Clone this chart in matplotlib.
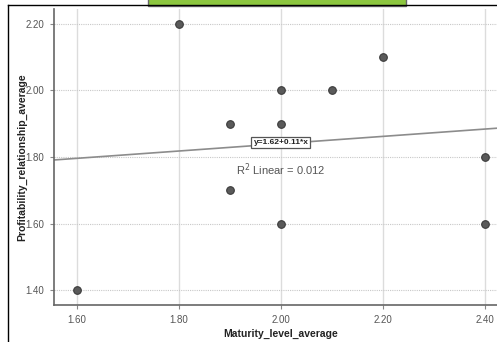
import matplotlib
matplotlib.use("Agg")
import matplotlib.pyplot as plt
from matplotlib.patches import Rectangle
from matplotlib.lines import Line2D

maturity = [1.60, 1.80, 1.90, 1.90, 2.00, 2.00, 2.00, 2.10, 2.20, 2.40, 2.40]
profitability = [1.40, 2.20, 1.90, 1.70, 2.00, 1.90, 1.60, 2.00, 2.10, 1.80, 1.60]
intercept = 1.62
slope = 0.11
r2 = 0.012
xticks = [1.60, 1.80, 2.00, 2.20, 2.40]
yticks = [1.40, 1.60, 1.80, 2.00, 2.20]

W, H = 497, 342
fig = plt.figure(figsize=(W / 100, H / 100), dpi=100)
plt.rcParams['font.family'] = ['Liberation Sans', 'DejaVu Sans']

# axes box in pixel terms
left, top, bottom = 54, 9, 305
x0, x1 = 1.555, 2.46
px_per_unit = 510.0
right = left + (x1 - x0) * px_per_unit
ax = fig.add_axes([left / W, (H - bottom) / H, (right - left) / W, (bottom - top) / H])
ax.set_xlim(x0, x1)
ax.set_ylim(1.355, 2.245)

ax.set_xticks(xticks)
ax.set_yticks(yticks)
ax.set_xticklabels([f"{v:.2f}" for v in xticks])
ax.set_yticklabels([f"{v:.2f}" for v in yticks])
ax.tick_params(axis='both', length=3, color='#888888', labelsize=7, labelcolor='#555555', pad=4)

for s in ['top', 'right']:
    ax.spines[s].set_visible(False)
for s in ['left', 'bottom']:
    ax.spines[s].set_color('#666666')
    ax.spines[s].set_linewidth(1.2)

for v in xticks:
    ax.axvline(v, color='#dcdcdc', lw=1.0, zorder=0)
for v in yticks:
    ax.axhline(v, color='#c8c8c8', lw=0.8, ls=(0, (1, 1)), zorder=0)

# linear fit line
xs = [x0, x1]
ax.plot(xs, [intercept + slope * x for x in xs], color='#8c8c8c', lw=1.2, zorder=2)

ax.scatter(maturity, profitability, s=30, color='#5a5a5a', edgecolor='#3a3a3a',
           linewidth=0.8, zorder=3)

ax.text(2.0, 1.843, f"y={intercept:.2f}+{slope:.2f}*x", fontsize=6, fontweight='bold',
        ha='center', va='center', color='#222222', zorder=4,
        bbox=dict(boxstyle='square,pad=0.25', fc='white', ec='#555555', lw=0.9))
ax.text(2.0, 1.763, f"R$^2$ Linear = {r2:.3f}", fontsize=8, ha='center', va='center',
        color='#555555', zorder=4)

# axis titles
fig.text(281 / W, (H - 334) / H, "Maturity_level_average", fontsize=7.5, fontweight='bold',
         color='#222222', ha='center', va='center')
fig.text(22 / W, (H - 157) / H, "Profitability_relationship_average", fontsize=7.5,
         fontweight='bold', color='#222222', ha='center', va='center', rotation=90)

# outer frame and title tab
fig.add_artist(Line2D([8 / W, 8 / W], [0, (H - 5) / H], color='black', lw=1.0))
fig.add_artist(Line2D([8 / W, 1], [(H - 5) / H, (H - 5) / H], color='black', lw=1.0))
fig.add_artist(Rectangle((148 / W, (H - 6) / H), (406 - 148) / W, 8 / H,
                         facecolor='#8cc63f', edgecolor='#666666', lw=1.0))

fig.savefig("out.png", dpi=100)
